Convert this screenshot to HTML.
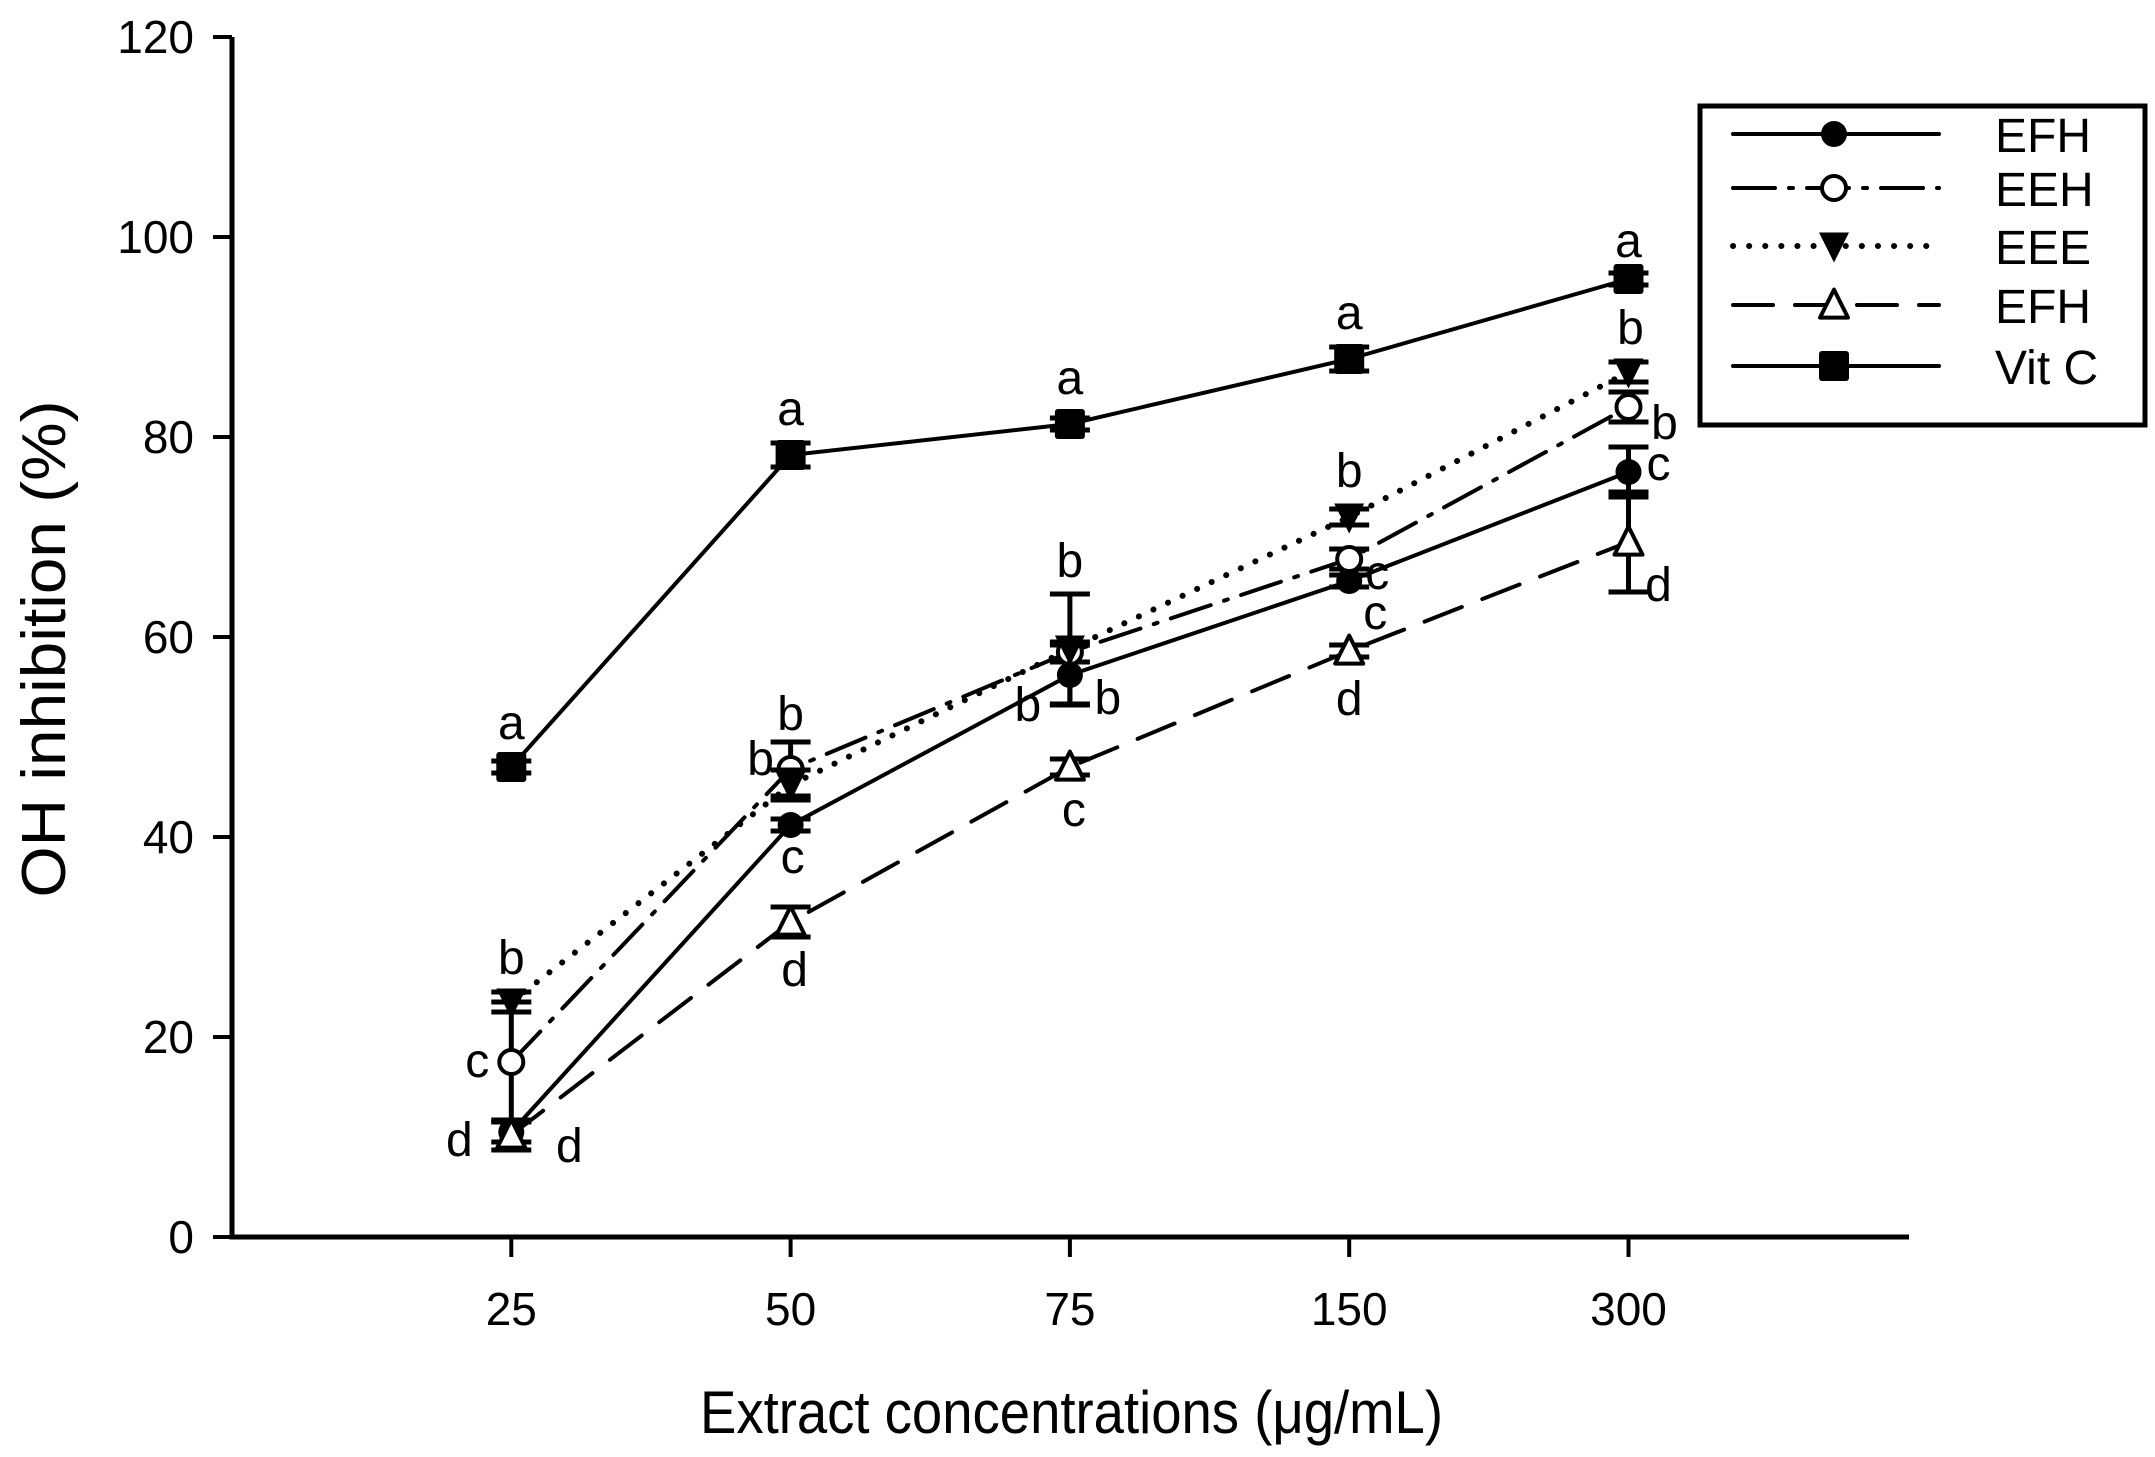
<!DOCTYPE html>
<html><head><meta charset="utf-8"><style>
html,body{margin:0;padding:0;background:#fff;}
svg{display:block;font-family:"Liberation Sans",Arial,sans-serif;}
</style></head><body>
<svg id="chart" width="2155" height="1457" viewBox="0 0 2155 1457" xmlns="http://www.w3.org/2000/svg">
<rect width="2155" height="1457" fill="#fff"/>
<g id="axes"></g>
<g id="plot"></g>
<g id="legend"></g>
<text x="700" y="1433" font-size="60" textLength="743" lengthAdjust="spacingAndGlyphs">Extract concentrations (μg/mL)</text>
<text transform="translate(65,649) rotate(-90)" font-size="62" text-anchor="middle" textLength="497" lengthAdjust="spacingAndGlyphs">OH inhibition (%)</text>
</svg>
<script>
const categories = ["25","50","75","150","300"];
const yTicks = [0,20,40,60,80,100,120];
const seriesNames = ["EFH","EEH","EEE","EFH","Vit C"];
const efhVals = [10.5,41.2,56.2,65.6,76.5];
const efhErr = [1,0.6,3,0.6,2.5];
const eehVals = [17.5,46.8,58.5,67.8,83];
const eehErr = [6,2.7,1,1,1.5];
const eeeVals = [23.5,45.2,58.8,72,86.5];
const eeeErr = [1,1.5,5.5,0.8,1];
const efh2Vals = [10.2,31.5,47,58.6,69.5];
const efh2Err = [1.5,1.5,0.8,0.6,5];
const vitVals = [47,78.2,81.3,87.8,95.8];
const vitErr = [0.6,1.2,0.6,1.2,0.6];
const vitLetters = ["a","a","a","a","a"];
const eeeLetters = ["b","b","b","b","b"];
const eehLetters = ["c","b","b","c","b"];
const efhLetters = ["d","c","b","c","c"];
const efh2Letters = ["d","d","c","d","d"];

const NS="http://www.w3.org/2000/svg";
const X0=232, Y0=1237, STEP=279.3;
function xs(i){return X0+STEP*(i+1);}
function ys(v){return Y0-v*10;}
function mk(tag,attrs,parent,text){const e=document.createElementNS(NS,tag);for(const k in attrs)e.setAttribute(k,attrs[k]);if(text!==undefined)e.textContent=text;parent.appendChild(e);return e;}
const axes=document.getElementById('axes'),plot=document.getElementById('plot'),legend=document.getElementById('legend');

let a=mk('path',{d:`M${X0},${ys(120)} V${Y0} H1909`,fill:'none',stroke:'#000','stroke-width':5},axes);


yTicks.forEach(t=>{
 let l=mk('line',{x1:X0-19,x2:X0,y1:ys(t),y2:ys(t),stroke:'#000','stroke-width':4},axes);
 
 
 let tx=mk('text',{x:X0-38,y:ys(t)+16,'font-size':46,'text-anchor':'end'},axes,String(t));
 
 
});
categories.forEach((c,i)=>{
 let l=mk('line',{x1:xs(i),x2:xs(i),y1:Y0,y2:Y0+20,stroke:'#000','stroke-width':4},axes);
 
 
 let tx=mk('text',{x:xs(i),y:1325,'font-size':46,'text-anchor':'middle'},axes,c);
 
 
});

const styles=[
 {vals:efhVals,err:efhErr,dash:null,marker:'circle-filled',name:'efh'},
 {vals:eehVals,err:eehErr,dash:'42 14 4 14',marker:'circle-open',name:'eeh'},
 {vals:eeeVals,err:eeeErr,dash:'0.1 16',marker:'tri-down',name:'eee'},
 {vals:efh2Vals,err:efh2Err,dash:'40 22',marker:'tri-up',name:'efh-2'},
 {vals:vitVals,err:vitErr,dash:null,marker:'square',name:'vit-c'}
];
function marker(type,cx,cy,parent,scale){
 scale=scale||1;let e;
 if(type==='circle-filled')e=mk('circle',{cx,cy,r:13*scale,fill:'#000'},parent);
 else if(type==='circle-open')e=mk('circle',{cx,cy,r:12*scale,fill:'#fff',stroke:'#000','stroke-width':4},parent);
 else if(type==='tri-down'){const s=15*scale;e=mk('path',{d:`M${cx-s},${cy-s*0.9} L${cx+s},${cy-s*0.9} L${cx},${cy+s*1.1} Z`,fill:'#000'},parent);}
 else if(type==='tri-up'){const s=14*scale;e=mk('path',{d:`M${cx-s},${cy+s*0.9} L${cx+s},${cy+s*0.9} L${cx},${cy-s*1.1} Z`,fill:'#fff',stroke:'#000','stroke-width':4,'stroke-linejoin':'round'},parent);}
 else e=mk('rect',{x:cx-15*scale,y:cy-15*scale,width:30*scale,height:30*scale,rx:3,fill:'#000'},parent);
 return e;
}
styles.forEach(s=>{
 const g=mk('g',{},plot);
 
 
 const d=s.vals.map((v,i)=>(i?'L':'M')+xs(i)+','+ys(v)).join(' ');
 const attrs={d,fill:'none',stroke:'#000','stroke-width':4,'stroke-linecap':'round'};
 if(s.dash)attrs['stroke-dasharray']=s.dash;
 if(s.name==='eee')attrs['stroke-width']=6;
 const p=mk('path',attrs,g);
 
 
 s.vals.forEach((v,i)=>{
  const x=xs(i),t=ys(v+s.err[i]),b=ys(v-s.err[i]);
  const eb=mk('path',{d:`M${x},${t} V${b} M${x-20},${t} H${x+20} M${x-20},${b} H${x+20}`,stroke:'#000','stroke-width':5,fill:'none'},g);
  
  
  const m=marker(s.marker,x,ys(v),g);
  
  
 });
});

const letterSets=[
 {L:vitLetters,V:vitVals,off:[[0,-28],[0,-30],[0,-30],[0,-30],[0,-22]]},
 {L:eeeLetters,V:eeeVals,off:[[0,-28],[0,-55],[0,-72],[0,-30],[2,-28]]},
 {L:eehLetters,V:eehVals,off:[[-34,15],[-30,6],[-42,69],[28,30],[36,32]]},
 {L:efhLetters,V:efhVals,off:[[-52,24],[2,48],[38,39],[26,48],[30,8]]},
 {L:efh2Letters,V:efh2Vals,off:[[58,27],[4,64],[4,59],[0,64],[30,59]]}
];
letterSets.forEach(set=>{
 set.L.forEach((l,i)=>{
  const t=mk('text',{x:xs(i)+set.off[i][0],y:ys(set.V[i])+set.off[i][1],'font-size':48,'text-anchor':'middle'},plot,l);
  
  
 });
});

const box=mk('rect',{x:1700,y:106,width:445,height:319,fill:'#fff',stroke:'#000','stroke-width':5},legend);


const rowY=[134,188,246,305,366];
styles.forEach((s,i)=>{
 const g=mk('g',{},legend);
 
 
 const at={x1:1733,x2:1939,y1:rowY[i],y2:rowY[i],stroke:'#000','stroke-width':4,'stroke-linecap':'round'};
 if(s.dash)at['stroke-dasharray']=s.dash;
 if(s.name==='eee')at['stroke-width']=6;
 mk('line',at,g);
 marker(s.marker,1834,rowY[i],g);
 mk('text',{x:1995,y:rowY[i]+18,'font-size':48},g,seriesNames[i]);
});
</script>
</body></html>
